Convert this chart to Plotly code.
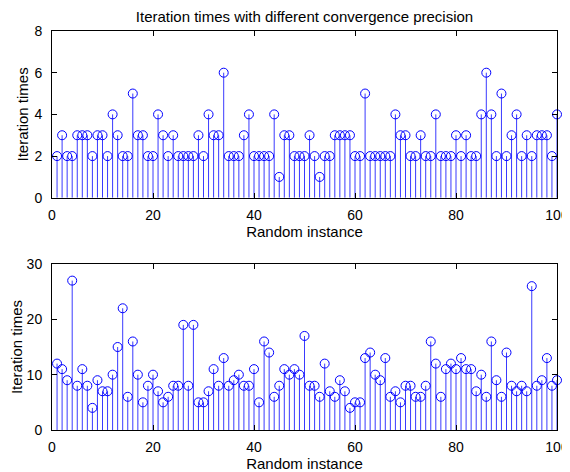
import plotly.graph_objects as go

instances = list(range(1, 101))

iters_top = [2, 3, 2, 2, 3, 3, 3, 2, 3, 3,
             2, 4, 3, 2, 2, 5, 3, 3, 2, 2,
             4, 3, 2, 3, 2, 2, 2, 2, 3, 2,
             4, 3, 3, 6, 2, 2, 2, 3, 4, 2,
             2, 2, 2, 4, 1, 3, 3, 2, 2, 2,
             3, 2, 1, 2, 2, 3, 3, 3, 3, 2,
             2, 5, 2, 2, 2, 2, 2, 4, 3, 3,
             2, 2, 3, 2, 2, 4, 2, 2, 2, 3,
             2, 3, 2, 2, 4, 6, 4, 2, 5, 2,
             3, 4, 2, 3, 2, 3, 3, 3, 2, 4]

iters_bottom = [12, 11, 9, 27, 8, 11, 8, 4, 9, 7,
                7, 10, 15, 22, 6, 16, 10, 5, 8, 10,
                7, 5, 6, 8, 8, 19, 8, 19, 5, 5,
                7, 11, 8, 13, 8, 9, 10, 8, 8, 11,
                5, 16, 14, 6, 8, 11, 10, 11, 10, 17,
                8, 8, 6, 12, 7, 6, 9, 7, 4, 5,
                5, 13, 14, 10, 9, 13, 6, 7, 5, 8,
                8, 6, 6, 8, 16, 12, 6, 11, 12, 11,
                13, 11, 11, 7, 10, 6, 16, 9, 6, 14,
                8, 7, 8, 7, 26, 8, 9, 13, 8, 9]

title_text = "Iteration times with different convergence precision"
x_label = "Random instance"
y_label = "Iteration times"
x_ticks = [0, 20, 40, 60, 80, 100]
y_ticks_top = [0, 2, 4, 6, 8]
y_ticks_bottom = [0, 10, 20, 30]

BLUE = "#0000ff"
STEM = "#3a3aff"
FONT = "Liberation Sans, Arial, Helvetica, sans-serif"


def stem_traces(xs, ys, xa, ya):
    lx, ly = [], []
    for xv, yv in zip(xs, ys):
        lx += [xv, xv, None]
        ly += [0, yv, None]
    lines = go.Scatter(x=lx, y=ly, mode="lines", line=dict(color=STEM, width=1),
                       xaxis=xa, yaxis=ya, hoverinfo="skip", showlegend=False,
                       cliponaxis=False)
    marks = go.Scatter(x=xs, y=ys, mode="markers",
                       marker=dict(symbol="circle-open", size=9, color=BLUE,
                                   line=dict(width=1, color=BLUE)),
                       xaxis=xa, yaxis=ya, showlegend=False, cliponaxis=False)
    return [lines, marks]


fig = go.Figure()
for t in stem_traces(instances, iters_top, "x", "y"):
    fig.add_trace(t)
for t in stem_traces(instances, iters_bottom, "x2", "y2"):
    fig.add_trace(t)

axis_common = dict(showgrid=False, zeroline=False, showline=True, linecolor="black",
                   linewidth=1, mirror="ticks", ticks="inside", ticklen=5,
                   tickcolor="black", automargin=False,
                   tickfont=dict(size=14, color="black", family=FONT))

xcommon = dict(axis_common, ticklabelstandoff=4)
ycommon = dict(axis_common, ticklabelstandoff=6)

# page body has an 8px default margin, so the figure is 8px smaller and shifted
fig.update_layout(
    width=562, height=464,
    margin=dict(l=44, r=13, t=23, b=42),
    paper_bgcolor="white", plot_bgcolor="white",
    font=dict(family=FONT, color="black", size=15),
    title=dict(text=title_text, x=0.5, xanchor="center", xref="paper",
               y=1 - 9 / 464, yanchor="middle",
               font=dict(size=15, family=FONT, color="black")),
    xaxis=dict(domain=[0, 1], range=[0, 100], tickvals=x_ticks, anchor="y",
               title=dict(text=x_label, standoff=1, font=dict(size=15)), **xcommon),
    yaxis=dict(domain=[0.582, 1], range=[0, 8], tickvals=y_ticks_top, anchor="x",
               title=dict(text=y_label, standoff=2, font=dict(size=15)), **ycommon),
    xaxis2=dict(domain=[0, 1], range=[0, 100], tickvals=x_ticks, anchor="y2",
                title=dict(text=x_label, standoff=1, font=dict(size=15)), **xcommon),
    yaxis2=dict(domain=[0, 0.416], range=[0, 30], tickvals=y_ticks_bottom, anchor="x2",
                title=dict(text=y_label, standoff=2, font=dict(size=15)), **ycommon),
)

fig.write_html("out.html")
